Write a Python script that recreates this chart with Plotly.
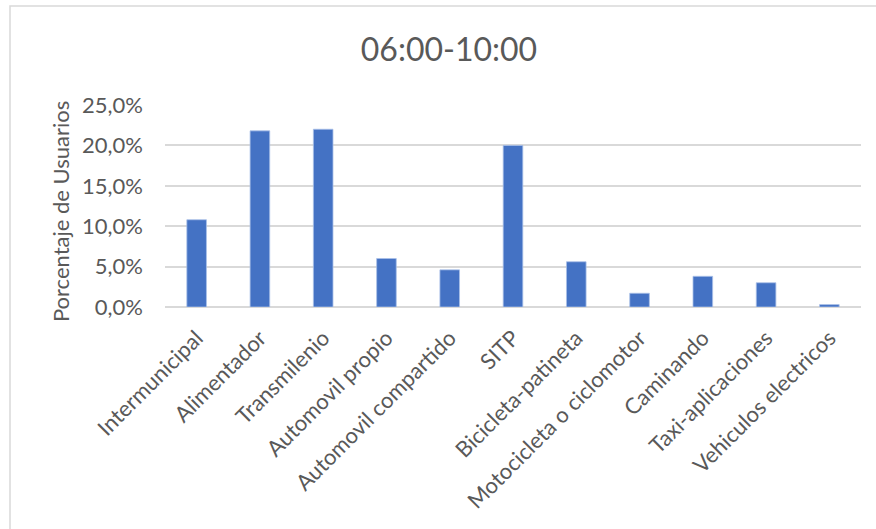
import plotly.graph_objects as go

categories = ["Intermunicipal", "Alimentador", "Transmilenio", "Automovil propio",
              "Automovil compartido", "SITP", "Bicicleta-patineta",
              "Motocicleta o ciclomotor", "Caminando", "Taxi-aplicaciones",
              "Vehiculos electricos"]
values = [10.8, 21.8, 22.0, 6.0, 4.6, 20.0, 5.6, 1.7, 3.8, 3.0, 0.3]
y_ticks = [0, 5, 10, 15, 20, 25]
y_ticktext = [f"{v:.1f}%".replace(".", ",") for v in y_ticks]

W, H = 876, 529
L, R, T, B = 165, 15, 105, 222
pw, ph = W - L - R, H - T - B

FONT = "Lato"
GREY = "#595959"

fig = go.Figure(go.Bar(
    x=categories, y=values,
    marker=dict(color="#4472c4", line=dict(color="#a9c0e8", width=0.8)),
    width=0.31,
))

fig.update_layout(
    width=W, height=H,
    margin=dict(l=L, r=R, t=T, b=B),
    paper_bgcolor="white", plot_bgcolor="white",
    showlegend=False,
    font=dict(family=FONT, color=GREY),
    title=dict(text="06:00-10:00", x=449 / W, xanchor="center",
               y=1 - 50 / H, yanchor="middle",
               font=dict(family=FONT, size=32, color=GREY)),
    xaxis=dict(tickangle=-45, tickfont=dict(size=22, color=GREY),
               showgrid=False, showline=False, ticks="",
               ticklabelstandoff=13,
               range=[-0.5, len(categories) - 0.5]),
    yaxis=dict(range=[0, 25], tickvals=y_ticks, ticktext=y_ticktext,
               tickfont=dict(size=22, color=GREY),
               showgrid=True, gridcolor="#d9d9d9", gridwidth=1.5,
               zeroline=True, zerolinecolor="#d9d9d9", zerolinewidth=1.5,
               showline=False, ticks="", ticklabelstandoff=21),
    annotations=[dict(text="Porcentaje de Usuarios", textangle=-90,
                      xref="paper", yref="paper",
                      x=(60 - L) / pw, y=0.47,
                      xanchor="center", yanchor="middle", showarrow=False,
                      font=dict(family=FONT, size=22, color=GREY))],
    shapes=[dict(type="rect", xref="paper", yref="paper",
                 x0=(10 - L) / pw, x1=2, y0=-3, y1=1 + (T - 6) / ph,
                 line=dict(color="#d9d9d9", width=1.5), fillcolor="rgba(0,0,0,0)",
                 layer="below")],
)

fig.write_html("out.html")
